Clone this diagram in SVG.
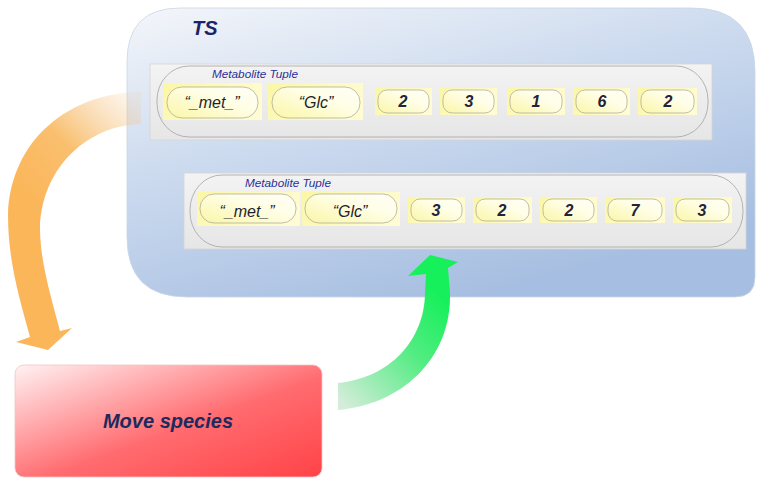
<svg xmlns="http://www.w3.org/2000/svg" width="758" height="478" viewBox="0 0 758 478">
  <defs>
    <linearGradient id="tsFill" x1="0" y1="0" x2="0.55" y2="1">
      <stop offset="0" stop-color="#f4f6fa"/>
      <stop offset="0.45" stop-color="#cddbef"/>
      <stop offset="1" stop-color="#a6bee1"/>
    </linearGradient>
    <linearGradient id="panelFill" x1="0" y1="0" x2="0" y2="1">
      <stop offset="0" stop-color="#f3f3f3"/>
      <stop offset="1" stop-color="#e6e6e6"/>
    </linearGradient>
    <linearGradient id="cellFill" x1="0" y1="0" x2="1" y2="0.4">
      <stop offset="0" stop-color="#fbf7a4"/>
      <stop offset="1" stop-color="#fffbd2"/>
    </linearGradient>
    <linearGradient id="pillFill" x1="0" y1="1" x2="1" y2="0">
      <stop offset="0" stop-color="#fbf6a6"/>
      <stop offset="0.6" stop-color="#fffee6"/>
      <stop offset="1" stop-color="#fffff6"/>
    </linearGradient>
    <linearGradient id="moveFill" x1="0" y1="0" x2="1" y2="1">
      <stop offset="0" stop-color="#fff2f3"/>
      <stop offset="0.55" stop-color="#ff6c70"/>
      <stop offset="1" stop-color="#ff4347"/>
    </linearGradient>
    <linearGradient id="orangeFill" gradientUnits="userSpaceOnUse" x1="142" y1="105" x2="40" y2="210">
      <stop offset="0" stop-color="#f5c890" stop-opacity="0.15"/>
      <stop offset="0.55" stop-color="#f9b85e" stop-opacity="0.9"/>
      <stop offset="1" stop-color="#fbb65a"/>
    </linearGradient>
    <linearGradient id="greenFill" gradientUnits="userSpaceOnUse" x1="338" y1="400" x2="445" y2="300">
      <stop offset="0" stop-color="#d6ecdb"/>
      <stop offset="0.6" stop-color="#52ec82"/>
      <stop offset="1" stop-color="#16f05a"/>
    </linearGradient>
    <style>
      .ts { fill: url(#tsFill); stroke: #c9d5e6; stroke-width: 0.8; }
      .panel { fill: url(#panelFill); stroke: #d4d4d4; stroke-width: 0.8; }
      .outline { fill: none; stroke: #a3a3a3; stroke-width: 0.8; }
      .cell { fill: url(#cellFill); }
      .pill { fill: url(#pillFill); stroke: #a4a494; stroke-width: 0.7; }
      .cap { font-family: "Liberation Sans", Arial, sans-serif; font-style: italic; font-size: 10px; fill: #2b2f9c; }
      .str { font-family: "Liberation Sans", Arial, sans-serif; font-style: italic; font-size: 16px; fill: #1f1f2e; text-anchor: middle; }
      .num { font-family: "Liberation Sans", Arial, sans-serif; font-style: italic; font-weight: bold; font-size: 16px; fill: #23233a; text-anchor: middle; }
      .title { font-family: "Liberation Sans", Arial, sans-serif; font-style: italic; font-weight: bold; font-size: 20px; fill: #1b2466; }
      .move { font-family: "Liberation Sans", Arial, sans-serif; font-style: italic; font-weight: bold; font-size: 20px; fill: #1c2a5e; text-anchor: middle; }
    </style>
  </defs>

  <rect width="758" height="478" fill="#ffffff"/>

  <!-- tuple space container -->
  <g id="node-ts">
    <path class="ts" d="M180,8 L692,8 Q755,8 755,72 L755,277 Q755,297 735,297 L187,297 Q127,297 127,237 L127,62 Q127,8 180,8 Z"/>
    <text class="title" x="192" y="35">TS</text>
  </g>

  <!-- first metabolite tuple -->
  <g id="node-tuple1">
    <rect class="panel" x="150" y="64" width="562" height="76"/>
    <rect class="outline" x="157" y="66" width="551" height="71" rx="32" ry="34"/>
    <text class="cap" x="212" y="78" textLength="86" lengthAdjust="spacingAndGlyphs">Metabolite Tuple</text>
    <rect class="cell" x="163" y="83" width="99" height="37"/>
    <rect class="pill" x="167" y="87" width="91" height="31" rx="15"/>
    <text class="str" x="212" y="108">“_met_”</text>
    <rect class="cell" x="268" y="83" width="95" height="37"/>
    <rect class="pill" x="272" y="87" width="88" height="31" rx="15"/>
    <text class="str" x="316" y="108">“Glc”</text>
    <rect class="cell" x="375" y="88" width="57" height="27"/>
    <rect class="pill" x="378" y="90" width="51" height="23" rx="9"/>
    <text class="num" x="403" y="107">2</text>
    <rect class="cell" x="440" y="88" width="57" height="27"/>
    <rect class="pill" x="443" y="90" width="51" height="23" rx="9"/>
    <text class="num" x="469" y="107">3</text>
    <rect class="cell" x="507" y="88" width="58" height="27"/>
    <rect class="pill" x="510" y="90" width="52" height="23" rx="9"/>
    <text class="num" x="536" y="107">1</text>
    <rect class="cell" x="573" y="88" width="57" height="27"/>
    <rect class="pill" x="576" y="90" width="51" height="23" rx="9"/>
    <text class="num" x="602" y="107">6</text>
    <rect class="cell" x="638" y="88" width="59" height="27"/>
    <rect class="pill" x="641" y="90" width="53" height="23" rx="9"/>
    <text class="num" x="668" y="107">2</text>
  </g>

  <!-- second metabolite tuple -->
  <g id="node-tuple2">
    <rect class="panel" x="184" y="173" width="562" height="76"/>
    <rect class="outline" x="190" y="175" width="553" height="72" rx="32" ry="35"/>
    <text class="cap" x="245" y="187" textLength="86" lengthAdjust="spacingAndGlyphs">Metabolite Tuple</text>
    <rect class="cell" x="197" y="192" width="103" height="34"/>
    <rect class="pill" x="200" y="194" width="96" height="29" rx="14"/>
    <text class="str" x="247" y="217">“_met_”</text>
    <rect class="cell" x="302" y="192" width="98" height="34"/>
    <rect class="pill" x="305" y="194" width="92" height="29" rx="14"/>
    <text class="str" x="350" y="217">“Glc”</text>
    <rect class="cell" x="408" y="197" width="57" height="26"/>
    <rect class="pill" x="411" y="199" width="51" height="22" rx="9"/>
    <text class="num" x="436" y="216">3</text>
    <rect class="cell" x="473" y="197" width="59" height="26"/>
    <rect class="pill" x="476" y="199" width="53" height="22" rx="9"/>
    <text class="num" x="502" y="216">2</text>
    <rect class="cell" x="540" y="197" width="57" height="26"/>
    <rect class="pill" x="543" y="199" width="51" height="22" rx="9"/>
    <text class="num" x="569" y="216">2</text>
    <rect class="cell" x="605" y="197" width="60" height="26"/>
    <rect class="pill" x="608" y="199" width="54" height="22" rx="9"/>
    <text class="num" x="635" y="216">7</text>
    <rect class="cell" x="673" y="197" width="59" height="26"/>
    <rect class="pill" x="676" y="199" width="53" height="22" rx="9"/>
    <text class="num" x="702" y="216">3</text>
  </g>

  <!-- action box -->
  <g id="node-move">
    <rect x="15" y="365" width="307" height="112" rx="9" fill="url(#moveFill)" stroke="#f2c4c6" stroke-width="0.8"/>
    <text class="move" x="168" y="428">Move species</text>
  </g>

  <!-- curved block arrows -->
  <g id="connectors">
    <path id="edge-ts-move" fill="url(#orangeFill)" d="M141,92 C70,92 10,140 8,215 C8,262 20,300 30,337 L16,342 L48,350 L72,328 L60,331 C52,300 40,262 40,228 C42,165 90,125 141,124 Z"/>
    <path id="edge-move-ts" fill="url(#greenFill)" d="M338,383 C390,378 425,340 425,292 L426,274 L408,276 L430,255 L458,262 L448,268 L450,292 C452,360 400,405 338,410 Z"/>
  </g>
</svg>
